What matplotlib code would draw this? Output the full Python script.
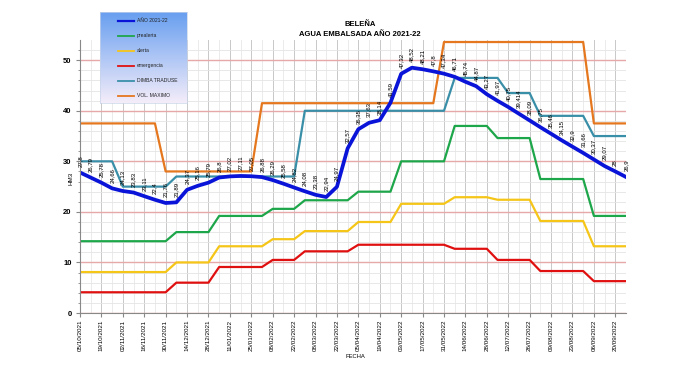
import numpy as np
import matplotlib
matplotlib.use("Agg")
import matplotlib.pyplot as plt
import matplotlib.dates as mdates
from datetime import date, timedelta

plt.rcParams["font.family"] = ["Liberation Sans", "DejaVu Sans"]

# ---- data (weekly readings, 05/10/2021 -> 27/09/2022) ----
start = date(2021, 10, 5)
n_weeks = 52
fechas = [start + timedelta(days=7 * i) for i in range(n_weeks)]

anio_2021_22 = [27.8, 26.79, 25.78, 24.66, 24.13, 23.83, 23.11, 22.4, 21.76, 21.89,
                24.37, 25.16, 25.79, 26.8, 27.02, 27.11, 27.05, 26.88, 26.29, 25.58,
                24.82, 24.08, 23.38, 22.94, 24.97, 32.57, 36.35, 37.63, 38.14, 41.59,
                47.32, 48.52, 48.21, 47.8, 47.34, 46.71, 45.74, 44.87, 43.27, 41.97,
                40.75, 39.414, 38.09, 36.75, 35.46, 34.15, 32.9, 31.66, 30.37, 29.07,
                28, 26.9]
prealerta = [14.2] * 9 + [16] * 4 + [19.2] * 5 + [20.6] * 3 + [22.3] * 5 + [24] * 4 + \
            [30] * 5 + [37] * 4 + [34.6] * 4 + [26.5] * 5 + [19.2] * 4
alerta = [8.1] * 9 + [10] * 4 + [13.2] * 5 + [14.6] * 3 + [16.2] * 5 + [18] * 4 + \
         [21.6] * 5 + [22.9] * 4 + [22.4] * 4 + [18.2] * 5 + [13.2] * 4
emergencia = [4.1] * 9 + [6] * 4 + [9.1] * 5 + [10.5] * 3 + [12.2] * 5 + [13.5] * 9 + \
             [12.7] * 4 + [10.5] * 4 + [8.3] * 5 + [6.3] * 4
dimba_traduse = [30] * 4 + [25] * 5 + [27] * 12 + [40] * 14 + [46.5] * 5 + [43.5] * 3 + \
                [39] * 5 + [35] * 4
vol_maximo = [37.5] * 8 + [28] * 9 + [41.5] * 17 + [53.6] * 14 + [37.5] * 4

series = [
    ("AÑO 2021-22", anio_2021_22, "#0a14d8", 2.7),
    ("prealerta", prealerta, "#1ea64a", 1.6),
    ("alerta", alerta, "#f5c518", 1.6),
    ("emergencia", emergencia, "#e01010", 1.6),
    ("DIMBA TRADUSE", dimba_traduse, "#3a8fa8", 1.6),
    ("VOL. MAXIMO", vol_maximo, "#e5771e", 1.6),
]

fig = plt.figure(figsize=(7, 3.75), dpi=100)
ax = fig.add_axes([80 / 700, 62 / 375, 546 / 700, 273 / 375])

# grid
ax.set_ylim(0, 54)
ax.set_xlim(fechas[0], fechas[-1])
ax.set_yticks(range(0, 51, 10))
ax.set_yticks(range(0, 54, 2), minor=True)
tick_dates = [start + timedelta(days=14 * i) for i in range(26)]
ax.set_xticks(tick_dates)
ax.set_xticks([start + timedelta(days=7 + 14 * i) for i in range(25)], minor=True)
ax.xaxis.set_major_formatter(mdates.DateFormatter("%d/%m/%Y"))
ax.grid(axis="y", which="minor", color="#e4e4e4", lw=0.6)
ax.grid(axis="y", which="major", color="#e6a8a8", lw=1.0)
ax.grid(axis="x", which="major", color="#c8c8c8", lw=0.7)
ax.grid(axis="x", which="minor", color="#e8e8e8", lw=0.6)
ax.set_axisbelow(True)

for name, vals, col, lw in reversed(series):
    ax.plot(fechas, vals, color=col, lw=lw, solid_joinstyle="round", clip_on=True)

# data labels on the reservoir line
for d, v in zip(fechas, anio_2021_22):
    ax.annotate(f"{v:g}".replace(".", ","), (mdates.date2num(d), v), xytext=(0, 4),
                textcoords="offset points", rotation=90, ha="center", va="bottom",
                fontsize=4.3, color="black")

for s in ("top", "right"):
    ax.spines[s].set_visible(False)
ax.spines["left"].set_color("#888888")
ax.spines["bottom"].set_color("#888888")
ax.tick_params(axis="x", labelrotation=90, labelsize=4.5, length=3, color="#888888", pad=2)
ax.tick_params(axis="x", which="minor", length=0)
ax.tick_params(axis="y", labelsize=5.5, length=3, color="#888888", pad=3)
ax.tick_params(axis="y", which="minor", length=1.5, color="#888888")
for lab in ax.get_yticklabels():
    lab.set_fontweight("bold")

# axis titles placed as in the reference (HM3 sits in the tick label column)
fig.text(71 / 700, 1 - 178 / 375, "HM3", fontsize=4.5, rotation=90, ha="center", va="center")
fig.text(355 / 700, 1 - 357 / 375, "FECHA", fontsize=4.2, ha="center", va="center")

# title
fig.text(0.514, 1 - 24 / 375, "BELEÑA", fontsize=5.5, fontweight="bold", ha="center", va="center")
fig.text(0.514, 1 - 35 / 375, "AGUA EMBALSADA AÑO 2021-22", fontsize=5.5,
         fontweight="bold", ha="center", va="center")

# legend box with gradient
lax = fig.add_axes([100 / 700, 1 - 103 / 375, 87 / 700, 91 / 375])
grad = np.linspace(0, 1, 256)[:, None]
top_c = np.array([0.40, 0.62, 0.94])
bot_c = np.array([0.96, 0.93, 0.98])
img = top_c[None, None, :] * (1 - grad[:, :, None]) + bot_c[None, None, :] * grad[:, :, None]
lax.imshow(img, aspect="auto", extent=(0, 1, 0, 1), origin="upper")
lax.set_xlim(0, 1)
lax.set_ylim(0, 1)
lax.set_xticks([])
lax.set_yticks([])
for s in lax.spines.values():
    s.set_color("#c8d4e8")
    s.set_linewidth(0.5)
for k, (name, vals, col, lw) in enumerate(series):
    y = 1 - (8.7 + 15 * k) / 91
    lax.plot([18 / 87, 34 / 87], [y, y], color=col, lw=1.6 if k == 0 else 1.3)
    lax.text(37 / 87, y, name, fontsize=3.6, va="center", ha="left", color="#222222")

fig.savefig("out.png", dpi=100)
